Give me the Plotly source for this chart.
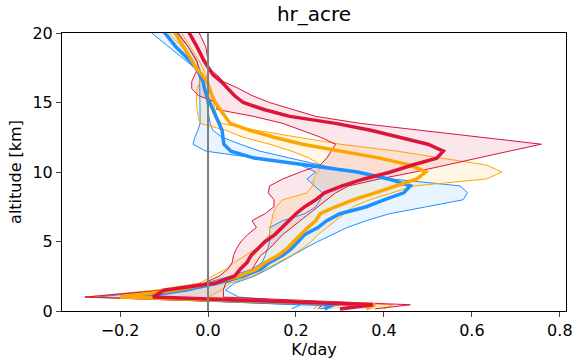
import plotly.graph_objects as go

# altitude levels [km]
alt = [0.15, 0.45, 1.0, 1.5, 2.0, 2.5, 3.0, 3.5, 4.0, 4.5, 5.0, 5.5, 6.0, 6.5, 7.0, 7.5,
       8.0, 8.5, 9.0, 9.5, 10.0, 10.5, 11.0, 11.5, 12.0, 12.5, 13.0, 13.5, 14.0, 14.5,
       15.0, 15.5, 16.0, 16.5, 17.0, 17.5, 18.0, 19.0, 20.0, 21.0]

# series 1 (blue)
blue_mean = [0.265, 0.285, -0.16, -0.05, 0.02, 0.08, 0.12, 0.14, 0.17, 0.19, 0.205, 0.22, 0.25, 0.27, 0.30, 0.36,
             0.40, 0.445, 0.46, 0.41, 0.34, 0.22, 0.105, 0.052, 0.036, 0.034, 0.032, 0.025, 0.018, 0.011,
             0.002, -0.003, -0.008, -0.011, -0.019, -0.028, -0.041, -0.073, -0.098, -0.12]
blue_lo = [0.19, 0.21, -0.25, -0.11, -0.007, 0.05, 0.10, 0.123, 0.13, 0.136, 0.14, 0.14, 0.14, 0.17, 0.22, 0.245,
           0.255, 0.26, 0.243, 0.225, 0.245, 0.21, 0.11, -0.005, -0.034, -0.03, -0.023, -0.018, -0.018, -0.018,
           -0.018, -0.018, -0.018, -0.019, -0.02, -0.03, -0.05, -0.09, -0.128, -0.16]
blue_hi = [0.255, 0.30, 0.07, 0.04, 0.06, 0.105, 0.136, 0.164, 0.19, 0.22, 0.25, 0.284, 0.316, 0.36, 0.413, 0.497,
           0.58, 0.59, 0.573, 0.418, 0.33, 0.255, 0.186, 0.118, 0.073, 0.032, 0.011, 0.005, 0.002, 0.0,
           -0.002, -0.004, -0.007, -0.01, -0.014, -0.02, -0.027, -0.045, -0.068, -0.09]

# series 2 (orange)
orange_mean = [0.36, 0.38, -0.20, -0.075, 0.01, 0.07, 0.11, 0.13, 0.16, 0.18, 0.195, 0.21, 0.227, 0.245, 0.255, 0.29,
               0.33, 0.38, 0.425, 0.475, 0.495, 0.46, 0.39, 0.30, 0.215, 0.15, 0.095, 0.05, 0.039, 0.027,
               0.016, 0.009, 0.003, -0.002, -0.014, -0.028, -0.036, -0.055, -0.075, -0.09]
orange_lo = [0.24, 0.25, -0.28, -0.12, -0.02, 0.01, 0.04, 0.06, 0.085, 0.11, 0.125, 0.14, 0.14, 0.145, 0.148, 0.155,
             0.17, 0.225, 0.238, 0.24, 0.25, 0.257, 0.23, 0.19, 0.14, 0.08, 0.04, -0.018, -0.022, -0.025,
             -0.026, -0.025, -0.025, -0.018, -0.02, -0.027, -0.035, -0.06, -0.09, -0.12]
orange_hi = [0.40, 0.42, 0.0, 0.03, 0.05, 0.10, 0.13, 0.16, 0.19, 0.215, 0.235, 0.25, 0.27, 0.29, 0.31, 0.33,
             0.368, 0.42, 0.47, 0.633, 0.668, 0.633, 0.53, 0.43, 0.30, 0.20, 0.11, 0.03, 0.02, 0.016,
             0.012, 0.008, 0.005, 0.0, -0.005, -0.012, -0.02, -0.04, -0.06, -0.08]

# series 3 (red)
red_mean = [0.30, 0.375, -0.125, -0.10, 0.016, 0.06, 0.073, 0.089, 0.098, 0.114, 0.13, 0.152, 0.168, 0.185, 0.20, 0.22,
            0.245, 0.265, 0.305, 0.355, 0.415, 0.465, 0.52, 0.535, 0.50, 0.435, 0.37, 0.29, 0.186, 0.127,
            0.08, 0.06, 0.045, 0.03, 0.011, 0.0, -0.009, -0.025, -0.041, -0.06]
red_lo = [0.25, 0.26, -0.28, -0.10, -0.01, 0.025, 0.045, 0.055, 0.058, 0.065, 0.075, 0.09, 0.11, 0.10, 0.13, 0.15,
          0.15, 0.137, 0.14, 0.17, 0.21, 0.255, 0.27, 0.28, 0.29, 0.256, 0.213, 0.17, 0.104, 0.02,
          0.02, -0.022, -0.037, -0.037, -0.03, -0.022, -0.025, -0.045, -0.07, -0.10]
red_hi = [0.38, 0.46, 0.035, 0.035, 0.04, 0.08, 0.10, 0.11, 0.12, 0.14, 0.155, 0.17, 0.19, 0.21, 0.23, 0.25,
          0.27, 0.29, 0.32, 0.39, 0.47, 0.54, 0.612, 0.685, 0.758, 0.62, 0.48, 0.346, 0.245, 0.19,
          0.14, 0.10, 0.07, 0.035, 0.02, 0.0, 0.0, -0.005, -0.02, -0.04]

series = [
    ("blue", blue_mean, blue_lo, blue_hi, "#1E90FF", "rgba(30,144,255,0.1)"),
    ("orange", orange_mean, orange_lo, orange_hi, "#FFA500", "rgba(255,165,0,0.1)"),
    ("red", red_mean, red_lo, red_hi, "#DC143C", "rgba(220,20,60,0.1)"),
]

fig = go.Figure()
for name, mean, lo, hi, col, fcol in series:
    fig.add_trace(go.Scatter(x=lo + hi[::-1], y=alt + alt[::-1], fill="toself", fillcolor=fcol,
                             line=dict(width=0), mode="lines", hoverinfo="skip", showlegend=False))
for name, mean, lo, hi, col, fcol in series:
    fig.add_trace(go.Scatter(x=lo, y=alt, mode="lines", line=dict(color=col, width=1), showlegend=False))
    fig.add_trace(go.Scatter(x=hi, y=alt, mode="lines", line=dict(color=col, width=1), showlegend=False))
for name, mean, lo, hi, col, fcol in series:
    fig.add_trace(go.Scatter(x=mean, y=alt, mode="lines", line=dict(color=col, width=3.5), showlegend=False))

fig.add_vline(x=0, line=dict(color="#808080", width=2))

font = "DejaVu Sans"
fig.update_layout(
    width=573, height=361,
    margin=dict(l=62, r=7, t=33, b=50, autoexpand=False),
    paper_bgcolor="white", plot_bgcolor="white",
    font=dict(family=font, size=16, color="black"),
    title=dict(text="hr_acre", x=0.5, xref="paper", xanchor="center", y=1 - 14 / 361, yref="container",
               yanchor="middle", font=dict(size=20)),
    showlegend=False,
)
fig.update_xaxes(range=[-0.332, 0.814], tickvals=[-0.2, 0, 0.2, 0.4, 0.6, 0.8], tickformat=".1f",
                 ticks="outside", ticklen=5, tickwidth=1, showgrid=False, zeroline=False, automargin=False,
                 showline=True, linecolor="black", linewidth=1, mirror=True,
                 title=dict(text="K/day", standoff=4, font=dict(size=16)))
fig.update_yaxes(range=[0, 20], tickvals=[0, 5, 10, 15, 20], automargin=False,
                 ticks="outside", ticklen=5, tickwidth=1, showgrid=False, zeroline=False,
                 showline=True, linecolor="black", linewidth=1, mirror=True,
                 title=dict(text="altitude [km]", standoff=6, font=dict(size=16)))

fig.write_html("out.html")
